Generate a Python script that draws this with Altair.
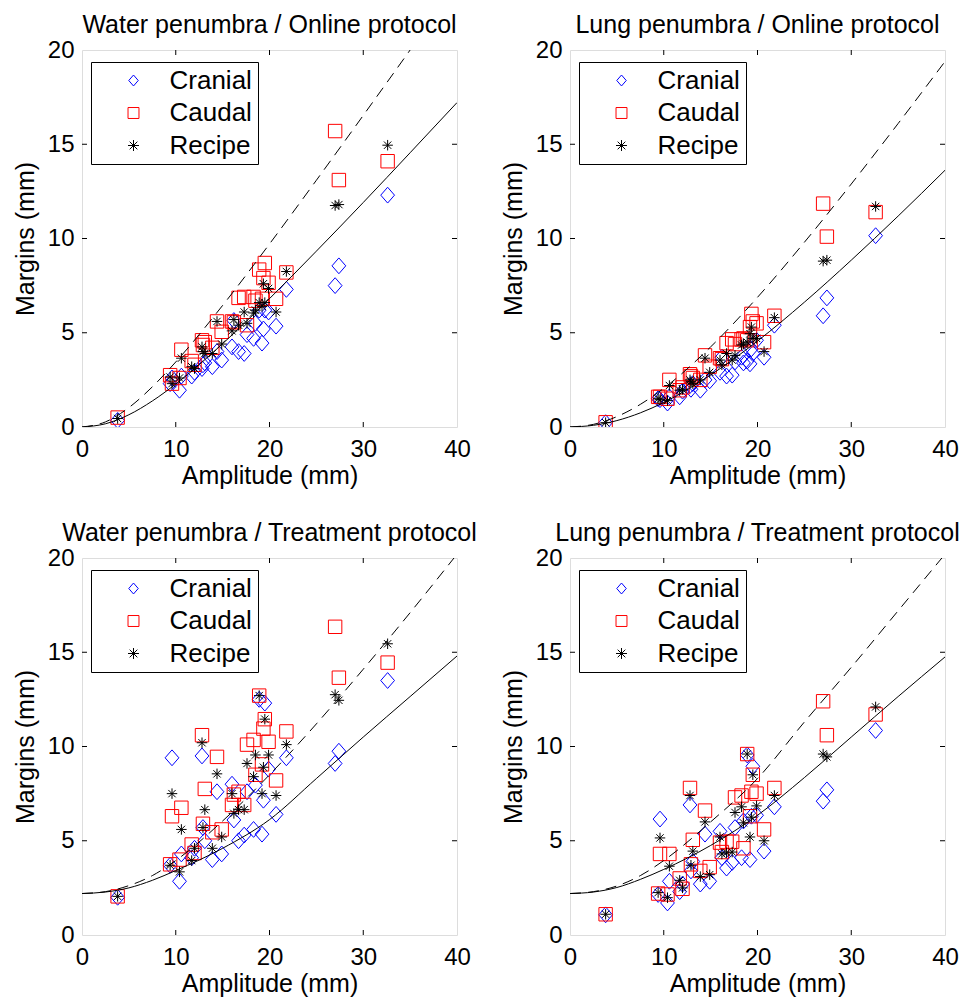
import altair as alt
import pandas as pd

# ---------------- data ----------------
SERIES = ["Cranial", "Caudal", "Recipe"]
AMPLITUDE = [3.8, 9.4, 9.6, 10.4, 10.6, 11.7, 12.0, 12.8, 12.9, 13.1, 13.9, 14.4, 14.9,
             16.0, 16.2, 16.7, 17.3, 17.6, 18.3, 18.5, 18.9, 19.2, 19.35, 19.5, 19.9, 20.7, 21.8,
             27.0, 27.4, 32.6]

# Water penumbra / Online protocol
WO_CRANIAL = [0.35, 2.3, 2.6, 1.95, 2.7, 2.7, 2.9, 3.1, 3.3, 3.4, 3.2, 4.0, 3.55, 4.25, 5.65,
              4.0, 3.9, 4.9, 4.7, 5.5, 6.2, 4.45, 5.2, 6.2, 6.1, 5.35, 7.3, 7.5, 8.55, 12.3]
WO_CAUDAL = [0.5, 2.75, 2.3, 2.6, 4.1, 3.5, 3.3, 4.6, 4.35, 4.5, 4.2, 5.6, 5.05, 5.6, 5.55,
             6.85, 6.9, 5.4, 6.9, 6.7, 8.35, 6.8, 7.9, 8.7, 7.65, 6.8, 8.2, 15.7, 13.1, 14.1]
WO_RECIPE = [0.45, 2.65, 2.3, 2.6, 3.65, 3.2, 3.1, 4.25, 4.0, 3.9, 3.9, 5.6, 4.4, 5.1, 5.7,
             5.4, 6.1, 5.5, 6.05, 6.2, 6.6, 6.4, 7.6, 6.6, 7.35, 6.1, 8.25, 11.75, 11.8, 14.95]

# Lung penumbra / Online protocol
LO_CRANIAL = [0.23, 1.5, 1.45, 1.27, 1.6, 1.6, 1.9, 2.2, 2.0, 2.3, 1.95, 2.5, 2.45, 2.9, 3.7,
              2.7, 2.75, 3.45, 3.7, 3.4, 3.5, 3.35, 4.15, 3.9, 4.6, 3.7, 5.4, 5.9, 6.85, 10.15]
LO_CAUDAL = [0.25, 1.6, 1.6, 1.5, 2.5, 1.95, 2.1, 2.8, 2.7, 2.6, 2.5, 3.8, 3.2, 3.65, 3.6,
             4.45, 4.65, 4.4, 4.65, 4.7, 4.6, 5.3, 6.0, 5.6, 5.5, 4.5, 5.9, 11.85, 10.1, 11.4]
LO_RECIPE = [0.23, 1.5, 1.45, 1.4, 2.2, 1.95, 2.0, 2.5, 2.4, 2.3, 2.5, 3.65, 2.9, 3.55, 3.3,
             3.9, 3.55, 3.8, 4.35, 4.4, 4.5, 4.95, 5.3, 4.7, 4.7, 4.0, 5.8, 8.8, 8.85, 11.7]

# Water penumbra / Treatment protocol
WT_CRANIAL = [2.0, 3.7, 9.4, 2.85, 4.3, 4.1, 4.6, 9.5, 5.7, 5.0, 4.0, 7.6, 4.3, 8.0, 6.1,
              5.0, 5.3, 7.6, 5.6, 7.95, 12.5, 5.35, 7.15, 12.3, 8.8, 6.4, 9.4, 9.1, 9.75, 13.5]
WT_CAUDAL = [2.05, 3.75, 6.3, 4.0, 6.75, 4.8, 4.35, 10.6, 5.9, 7.75, 5.45, 9.45, 5.6, 6.9, 7.45,
             7.6, 6.9, 10.1, 10.35, 8.5, 12.7, 9.05, 10.95, 11.45, 10.25, 8.2, 10.8, 16.35, 13.65, 14.45]
WT_RECIPE = [2.05, 3.7, 7.5, 3.35, 5.6, 3.95, 4.6, 10.2, 5.7, 6.65, 4.6, 8.55, 5.2, 7.5, 6.45,
             6.65, 6.65, 9.1, 8.4, 9.55, 12.7, 7.5, 8.9, 11.45, 9.55, 7.4, 10.1, 12.75, 12.45, 15.45]

# Lung penumbra / Treatment protocol
LT_CRANIAL = [1.07, 2.15, 6.15, 1.7, 2.85, 2.3, 2.7, 6.9, 3.4, 3.9, 2.7, 5.35, 2.85, 5.5, 4.1,
              3.55, 3.85, 5.7, 4.1, 6.05, 9.55, 4.0, 6.3, 8.95, 6.35, 4.45, 6.8, 7.1, 7.7, 10.85]
LT_CAUDAL = [1.1, 2.2, 4.3, 2.15, 4.3, 3.0, 2.45, 7.8, 3.75, 5.05, 3.4, 6.6, 3.6, 4.9, 4.4,
             4.95, 4.95, 7.3, 7.4, 4.6, 9.6, 6.3, 7.6, 8.5, 7.5, 5.6, 7.8, 12.4, 10.6, 11.7]
LT_RECIPE = [1.1, 2.25, 5.15, 1.98, 3.65, 2.9, 2.5, 7.4, 3.7, 4.45, 3.1, 6.0, 3.2, 5.2, 4.3,
             4.36, 4.4, 6.5, 6.8, 5.95, 9.6, 5.2, 6.25, 8.5, 6.85, 5.0, 7.4, 9.6, 9.45, 12.1]

# curves (read at these amplitudes)
CURVE_A = [0, 2.5, 5, 7.5, 10, 15, 20, 25, 30, 35, 40]
WO_SOLID = [0, 0.17, 0.65, 1.38, 2.28, 4.42, 6.81, 9.33, 11.91, 14.55, 17.21]
WO_DASHED = [0, 0.27, 1.03, 2.13, 3.45, 6.45, 9.71, 13.09, 16.53, 20.0, 23.5]
LO_SOLID = [0, 0.09, 0.34, 0.75, 1.30, 2.76, 4.56, 6.62, 8.85, 11.19, 13.62]
LO_DASHED = [0, 0.14, 0.55, 1.2, 2.05, 4.25, 6.88, 9.8, 12.89, 16.1, 19.39]
WT_SOLID = [2.2, 2.28, 2.5, 2.9, 3.42, 4.6, 6.12, 8.3, 10.5, 12.65, 14.8]
WT_DASHED = [2.2, 2.3, 2.62, 3.15, 3.95, 6.05, 8.5, 11.2, 14.1, 17.1, 20.2]
LT_SOLID = [2.2, 2.28, 2.52, 2.95, 3.48, 4.75, 6.35, 8.35, 10.5, 12.65, 14.75]
LT_DASHED = [2.2, 2.3, 2.6, 3.15, 3.95, 6.0, 8.3, 11.3, 14.2, 17.2, 20.2]

XTICKS = [0, 10, 20, 30, 40]
YTICKS = [0, 5, 10, 15, 20]
INNER_XTICKS = [10, 20, 30]
INNER_YTICKS = [5, 10, 15]

# ---------------- styling ----------------
W, H = 375, 377
FONT = "Liberation Sans, Arial, sans-serif"
DIAMOND = "M0,-1L0.87,0L0,1L-0.87,0Z"
STAR = "M-1,0L1,0M0,-1L0,1M-0.7,-0.7L0.7,0.7M-0.7,0.7L0.7,-0.7"

xscale = alt.Scale(domain=[0, 40], nice=False, zero=False)
yscale = alt.Scale(domain=[0, 20], nice=False, zero=False)
xaxis = alt.Axis(title="Amplitude (mm)", values=XTICKS, ticks=False, grid=False, domain=False,
                 labelFontSize=24, titleFontSize=25, labelPadding=10, titlePadding=2,
                 labelFlush=False, labelOverlap=False, labelColor="black", titleColor="black",
                 titleFontWeight="normal", labelFont=FONT, titleFont=FONT)
yaxis = alt.Axis(title="Margins (mm)", values=YTICKS, ticks=False, grid=False, domain=False,
                 labelFontSize=24, titleFontSize=25, labelPadding=8, titlePadding=9,
                 labelFlush=False, labelOverlap=False, labelColor="black", titleColor="black",
                 titleFontWeight="normal", labelFont=FONT, titleFont=FONT)

legend = alt.Legend(title=None, orient="none", legendX=9, legendY=12, strokeColor="black",
                    fillColor="white", padding=5.5, symbolOffset=24, labelOffset=23,
                    labelFontSize=26, labelFont=FONT, labelColor="black", rowPadding=6.5,
                    symbolSize=120, symbolStrokeWidth=1, cornerRadius=0)


def panel(title, cr, ca, re, solid, dashed):
    n = len(AMPLITUDE)
    pts = pd.DataFrame({
        "x": AMPLITUDE * 3,
        "y": cr + ca + re,
        "series": [SERIES[0]] * n + [SERIES[1]] * n + [SERIES[2]] * n,
    })
    cur_s = pd.DataFrame({"x": CURVE_A, "y": solid})
    cur_d = pd.DataFrame({"x": CURVE_A, "y": dashed})
    xt = pd.DataFrame({"x": INNER_XTICKS})
    yt = pd.DataFrame({"y": INNER_YTICKS})

    X = alt.X("x:Q", scale=xscale, axis=xaxis)
    Y = alt.Y("y:Q", scale=yscale, axis=yaxis)

    points = alt.Chart(pts).mark_point(filled=False, strokeWidth=1, opacity=1, clip=True).encode(
        x=X, y=Y,
        color=alt.Color("series:N", scale=alt.Scale(domain=SERIES, range=["#0000FF", "#FF0000", "#000000"]),
                        legend=legend),
        shape=alt.Shape("series:N", scale=alt.Scale(domain=SERIES, range=[DIAMOND, "square", STAR]),
                        legend=legend),
        size=alt.Size("series:N", scale=alt.Scale(domain=SERIES, range=[250, 110, 200]), legend=None),
    )
    line_s = alt.Chart(cur_s).mark_line(color="black", strokeWidth=1, interpolate="monotone", clip=True).encode(x=X, y=Y)
    line_d = alt.Chart(cur_d).mark_line(color="black", strokeWidth=1, interpolate="monotone", clip=True,
                                        strokeDash=[11, 7]).encode(x=X, y=Y)
    tb = alt.Chart(xt).mark_rule(color="black", strokeWidth=1).encode(x=X, y=alt.value(H), y2=alt.value(H - 5))
    tt = alt.Chart(xt).mark_rule(color="black", strokeWidth=1).encode(x=X, y=alt.value(0), y2=alt.value(5))
    tl = alt.Chart(yt).mark_rule(color="black", strokeWidth=1).encode(y=Y, x=alt.value(0), x2=alt.value(5))
    tr = alt.Chart(yt).mark_rule(color="black", strokeWidth=1).encode(y=Y, x=alt.value(W), x2=alt.value(W - 5))

    return alt.layer(points, line_s, line_d, tb, tt, tl, tr).properties(
        width=W, height=H,
        title=alt.TitleParams(title, fontSize=25, fontWeight="normal", font=FONT, color="black",
                              anchor="middle", offset=0),
    )


p1 = panel("Water penumbra / Online protocol", WO_CRANIAL, WO_CAUDAL, WO_RECIPE, WO_SOLID, WO_DASHED)
p2 = panel("Lung penumbra / Online protocol", LO_CRANIAL, LO_CAUDAL, LO_RECIPE, LO_SOLID, LO_DASHED)
p3 = panel("Water penumbra / Treatment protocol", WT_CRANIAL, WT_CAUDAL, WT_RECIPE, WT_SOLID, WT_DASHED)
p4 = panel("Lung penumbra / Treatment protocol", LT_CRANIAL, LT_CAUDAL, LT_RECIPE, LT_SOLID, LT_DASHED)

chart = alt.concat(p1, p2, p3, p4, columns=2, spacing=alt.RowColnumber(row=131, column=113),
                   bounds="flush").resolve_legend(
    color="independent", shape="independent"
).properties(
    padding={"left": 4, "top": 4, "right": 0, "bottom": 0}
).configure_view(stroke="black", strokeWidth=1).configure(font=FONT, background="white")

chart.save("out.html", embed_options={"renderer": "svg", "actions": False})
